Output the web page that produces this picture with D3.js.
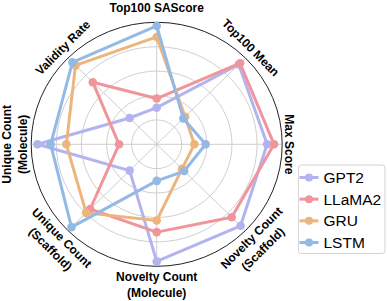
<!DOCTYPE html>
<html>
<head>
<meta charset="utf-8">
<script src="https://cdn.jsdelivr.net/npm/d3@7"></script>
<style>
  body { margin: 0; background: #fff; }
  text { font-family: "Liberation Sans", Arial, sans-serif; }
</style>
</head>
<body>
<svg id="radar"></svg>
<script>
const axes_labels = [
  ['Top100 SAScore'],
  ['Top100 Mean'],
  ['Max Score'],
  ['Novelty Count', '(Scaffold)'],
  ['Novelty Count', '(Molecule)'],
  ['Unique Count', '(Scaffold)'],
  ['Unique Count', '(Molecule)'],
  ['Validity Rate']
];
const model_names = ['GPT2', 'LLaMA2', 'GRU', 'LSTM'];
const gpt2_vals   = [0.30, 0.925, 0.88, 0.945, 0.96, 0.305, 0.95, 0.305];
const llama2_vals = [0.375, 0.94, 0.935, 0.845, 0.72, 0.75, 0.30, 0.72];
const gru_vals    = [0.88, 0.32, 0.30, 0.285, 0.625, 0.795, 0.72, 0.915];
const lstm_vals   = [0.97, 0.30, 0.39, 0.31, 0.30, 0.96, 0.845, 0.95];
const ring_ticks  = [0.2, 0.4, 0.6, 0.8];

const series = [gpt2_vals, llama2_vals, gru_vals, lstm_vals];
const colors = ['#b3b3ef', '#f0959c', '#edb57e', '#93b9e4'];

const w = 387;
const h = 301;
const cx = 156.7;
const cy = 144.3;

const svg = d3.select('#radar').attr('width', w).attr('height', h);

// radius scales (picture is slightly squashed vertically)
const rx = d3.scaleLinear().domain([0, 1]).range([0, 125.5]);
const ry = d3.scaleLinear().domain([0, 1]).range([0, 122]);
const angle = d3.scalePoint().domain(d3.range(axes_labels.length))
  .range([0, 360 * (axes_labels.length - 1) / axes_labels.length]);

const px = (i, v) => cx + rx(v) * Math.sin(angle(i) * Math.PI / 180);
const py = (i, v) => cy - ry(v) * Math.cos(angle(i) * Math.PI / 180);

const grid = svg.append('g');

grid.selectAll('ellipse.ring')
  .data(ring_ticks)
  .enter()
  .append('ellipse')
  .attr('class', 'ring')
  .attr('cx', cx).attr('cy', cy)
  .attr('rx', d => rx(d)).attr('ry', d => ry(d))
  .attr('fill', 'none')
  .attr('stroke', '#c9c9c9')
  .attr('stroke-width', 0.9);

grid.selectAll('line.spoke')
  .data(d3.range(axes_labels.length))
  .enter()
  .append('line')
  .attr('class', 'spoke')
  .attr('x1', cx).attr('y1', cy)
  .attr('x2', i => px(i, 1)).attr('y2', i => py(i, 1))
  .attr('stroke', '#c9c9c9')
  .attr('stroke-width', 0.9);

grid.append('ellipse')
  .attr('cx', cx).attr('cy', cy)
  .attr('rx', rx(1)).attr('ry', ry(1))
  .attr('fill', 'none')
  .attr('stroke', '#222')
  .attr('stroke-width', 1);

// axis labels, tangent to the circle
const lh = 16;
axes_labels.forEach(function(lines, i) {
  const a = angle(i);
  const n = lines.length;
  const dx = 133 + (n - 1) * 9;
  const dy = 137 + (n - 1) * 3;
  const x = cx + dx * Math.sin(a * Math.PI / 180);
  const y = cy - dy * Math.cos(a * Math.PI / 180);
  let rot = a;
  if (a > 90 && a < 270) rot = a - 180;
  else if (a >= 270) rot = a - 360;
  const t = svg.append('text')
    .attr('transform', 'translate(' + x + ',' + y + ') rotate(' + rot + ')')
    .attr('text-anchor', 'middle')
    .attr('font-size', 12)
    .attr('font-weight', 'bold')
    .attr('fill', '#000');
  lines.forEach(function(s, k) {
    t.append('tspan')
      .attr('x', 0)
      .attr('y', (k - (n - 1) / 2) * lh + 4.3)
      .text(s);
  });
});

// series
const line = d3.line()
  .x(d => px(d.i, d.v))
  .y(d => py(d.i, d.v))
  .curve(d3.curveLinearClosed);

series.forEach(function(vals, s) {
  const pts = vals.map((v, i) => ({i: i, v: v}));
  const g = svg.append('g');
  g.append('path')
    .attr('d', line(pts))
    .attr('fill', 'none')
    .attr('stroke', colors[s])
    .attr('stroke-width', 3)
    .attr('stroke-linejoin', 'round');
  g.selectAll('circle')
    .data(pts)
    .enter()
    .append('circle')
    .attr('cx', d => px(d.i, d.v))
    .attr('cy', d => py(d.i, d.v))
    .attr('r', 4.3)
    .attr('fill', colors[s]);
});

// legend
const legend = svg.append('g');
legend.append('rect')
  .attr('x', 298.5).attr('y', 165)
  .attr('width', 86.5).attr('height', 88.5)
  .attr('rx', 3)
  .attr('fill', '#fff')
  .attr('fill-opacity', 0.8)
  .attr('stroke', '#d5d5d5')
  .attr('stroke-width', 1);

const ly = d3.scalePoint().domain(model_names).range([177.5, 242.5]);
model_names.forEach(function(name, i) {
  legend.append('line')
    .attr('x1', 299.5).attr('x2', 318.5)
    .attr('y1', ly(name)).attr('y2', ly(name))
    .attr('stroke', colors[i])
    .attr('stroke-width', 3);
  legend.append('circle')
    .attr('cx', 309).attr('cy', ly(name))
    .attr('r', 4)
    .attr('fill', colors[i]);
  legend.append('text')
    .attr('x', 323.5)
    .attr('y', ly(name) + 5.5)
    .attr('font-size', 15.5)
    .attr('fill', '#000')
    .text(name);
});
</script>
</body>
</html>
